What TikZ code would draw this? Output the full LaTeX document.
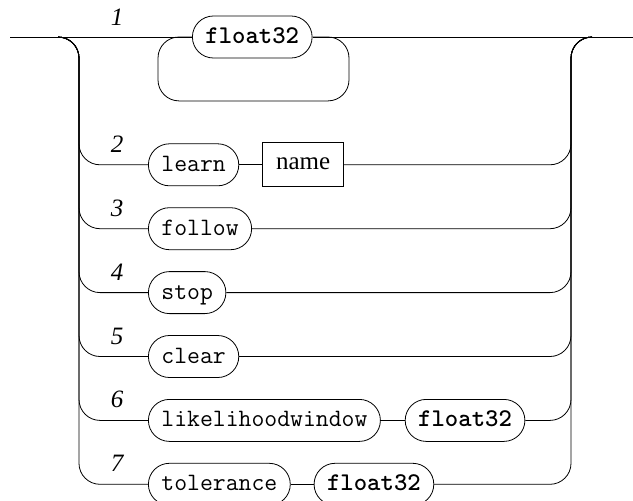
\documentclass[tikz,border=0pt]{standalone}
\usepackage{fontspec}
\setmainfont{Liberation Serif}
\usetikzlibrary{positioning}
\tikzset{
  rail/.style={draw=black,line width=0.8pt,rounded corners=21pt},
  keyword/.style={draw=black,line width=0.8pt,fill=white,rounded corners=21pt,
    minimum height=42pt,inner xsep=13pt,inner ysep=0pt,
    text height=16pt,text depth=3pt,font=\ttfamily\fontsize{25}{25}\selectfont},
  number/.style={keyword,font=\ttfamily\bfseries\fontsize{25.5}{25}\selectfont},
  ident/.style={draw=black,line width=0.8pt,fill=white,minimum height=44pt,
    inner xsep=13.5pt,inner ysep=0pt,text height=14pt,text depth=4pt,
    font=\fontsize{25}{25}\selectfont},
  choice/.style={anchor=base,font=\itshape\fontsize{25}{25}\selectfont}
}
\begin{document}
\begin{tikzpicture}[x=1pt,y=-1pt]
\useasboundingbox (0,0) rectangle (633,501);
% entry, exit and the two columns where the choices split and join
\coordinate (entry) at (10,37);
\coordinate (exit) at (633,37);
\coordinate (lsplit) at (79,37);
\coordinate (rjoin) at (571,37);
% boxes of the seven choices:
\node[number,anchor=west] (f1) at (192,37) {float32};
\node[keyword,anchor=west] (learn) at (148,164.8) {learn};
\node[ident,right=23pt of learn] (name) {name};
\node[keyword,anchor=west] (follow) at (148,228.7) {follow};
\node[keyword,anchor=west] (stop) at (148,292.6) {stop};
\node[keyword,anchor=west] (clear) at (148,356.5) {clear};
\node[keyword,anchor=west] (lhw) at (148,420.4) {likelihoodwindow};
\node[number,right=24pt of lhw] (f6) {float32};
\node[keyword,anchor=west] (tol) at (148,484.3) {tolerance};
\node[number,right=23pt of tol] (f7) {float32};
% numbers of the choices:
\node[choice] at (117,25) {1};
\node[choice] at (117,152.3) {2};
\node[choice] at (117,216.2) {3};
\node[choice] at (117,280.1) {4};
\node[choice] at (117,344) {5};
\node[choice] at (117,407.9) {6};
\node[choice] at (117,471.8) {7};
% rails:
\path[rail] (entry) -- (f1.west);
\path[rail] (f1.east) -- (exit);
\path[rail] (f1.west) -- (158,37) -- (158,100.9) -- (349,100.9) -- (349,37) -- (f1.east);
\path[rail] (learn) -- (name);
\path[rail] (lhw) -- (f6);
\path[rail] (tol) -- (f7);
\foreach \a/\b in {learn/name,follow/follow,stop/stop,clear/clear,lhw/f6,tol/f7} {
  \path[rail] (lsplit) ++(-21,0) -- (lsplit) -- (lsplit |- \a.west) -- (\a.west);
  \path[rail] (\b.east) -- (rjoin |- \b.east) -- (rjoin) -- ++(21,0);
}
\end{tikzpicture}
\end{document}
